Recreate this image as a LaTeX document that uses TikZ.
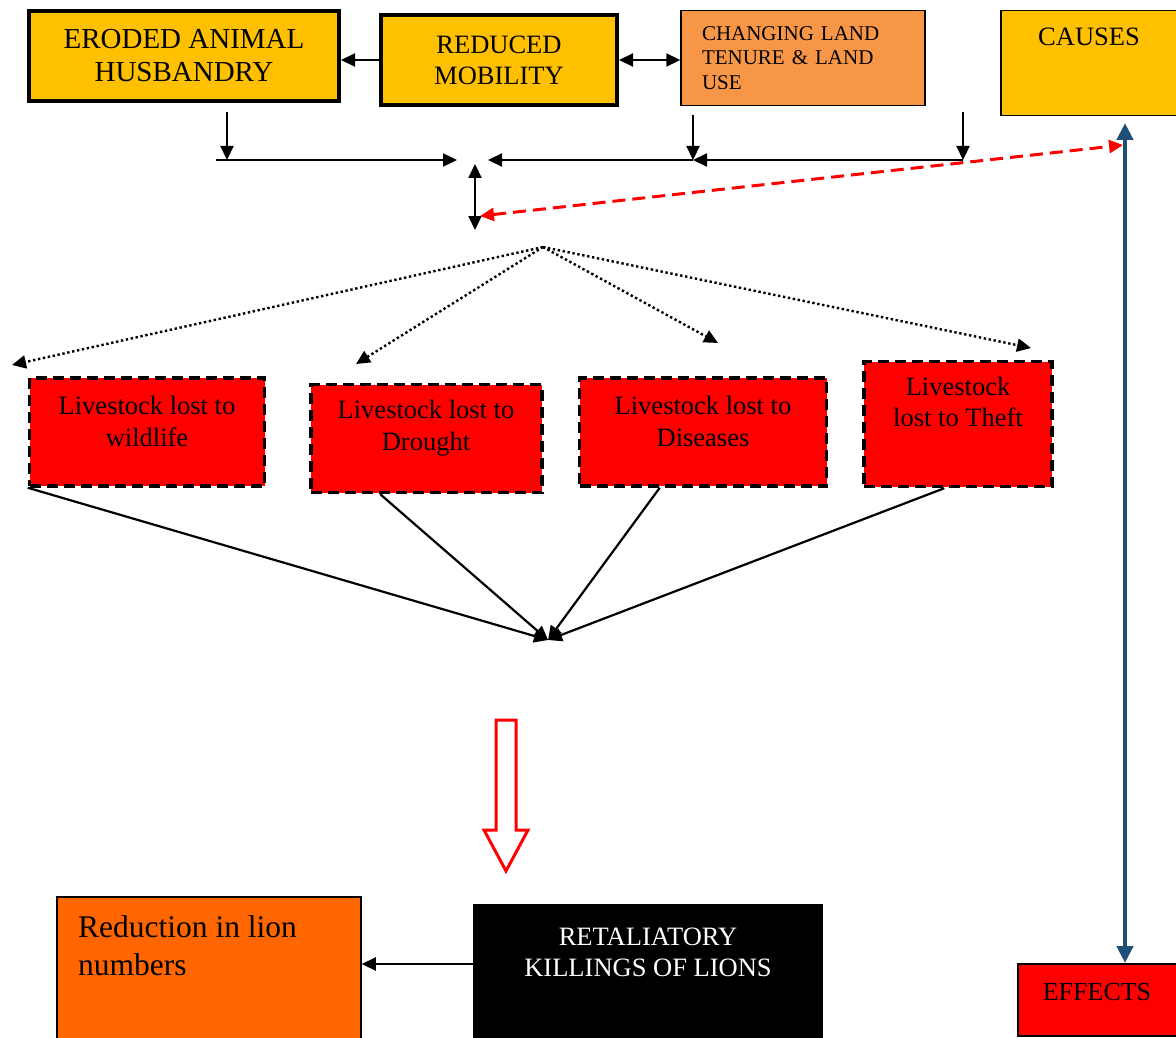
\documentclass[tikz,border=0pt]{standalone}
\usepackage{fontspec}
\setmainfont{Liberation Serif}
\usepackage{xcolor}
\definecolor{LionGold}{HTML}{FFC000}
\definecolor{LionTan}{HTML}{F79646}
\definecolor{LionRed}{HTML}{FF0000}
\definecolor{LionOrange}{HTML}{FF6600}
\definecolor{LionBlue}{HTML}{1F4E79}
\usepackage{tikz}
\usetikzlibrary{arrows.meta,positioning}

\begin{document}
\begin{tikzpicture}[
  x=1pt,y=-1pt,
  heavy/.style={draw=black,line width=4pt,fill=LionGold,align=center,inner sep=0pt,font=\fontsize{26.5}{31}\selectfont},
  plain/.style={draw=black,line width=1.5pt,inner sep=0pt},
  loss/.style={draw=black,line width=3.5pt,dash pattern=on 11pt off 6pt,fill=LionRed,inner sep=0pt},
  word/.style={align=center,inner sep=0pt,font=\fontsize{26.5}{32}\selectfont},
  arr/.style={line width=2.2pt,-{Triangle[length=14pt,width=13pt]}},
  dbl/.style={line width=2.2pt,{Triangle[length=14pt,width=13pt]}-{Triangle[length=14pt,width=13pt]}},
  dotarr/.style={line width=2.4pt,dash pattern=on 2.4pt off 2.6pt,-{Triangle[length=14pt,width=13pt]}},
  reddash/.style={draw=LionRed,line width=3pt,dash pattern=on 13pt off 7pt,{Triangle[length=14pt,width=13pt]}-{Triangle[length=14pt,width=13pt]}},
  bluearr/.style={draw=LionBlue,line width=4.5pt,{Triangle[length=17pt,width=16pt]}-{Triangle[length=17pt,width=16pt]}}
]
  \useasboundingbox (0,0) rectangle (1176,1038);
  \node[heavy,minimum width=310pt,minimum height=90pt,font=\fontsize{29}{33}\selectfont] (eroded) at (184,56) {ERODED ANIMAL\\HUSBANDRY};
  \node[heavy,minimum width=236pt,minimum height=90pt] (mobility) at (499,60) {REDUCED\\MOBILITY};
  \node[plain,fill=LionTan,minimum width=244pt,minimum height=95pt,text width=202pt,align=left,font=\fontsize{21}{24.5}\selectfont] (tenure) at (803,58) {CHANGING LAND\\TENURE \& LAND\\USE};
  \node[plain,fill=LionGold,minimum width=176pt,minimum height=105pt] (causes) at (1089,63) {};
  \node[word] (causestext) at (1089,37) {CAUSES};
  \node[loss,minimum width=235pt,minimum height=108pt] (wildlife) at (147,432) {};
  \node[loss,minimum width=231pt,minimum height=108pt] (drought) at (426.5,438.5) {};
  \node[loss,minimum width=247pt,minimum height=108pt] (diseases) at (703,432) {};
  \node[loss,minimum width=188pt,minimum height=125pt] (theft) at (958,424) {};
  \node[word] (wildlifetext) at (147,421) {Livestock lost to\\wildlife};
  \node[word] (droughttext) at (426,428) {Livestock lost to\\Drought};
  \node[word] (diseasestext) at (703,421) {Livestock lost to\\Diseases};
  \node[word,font=\fontsize{26.5}{31}\selectfont] (thefttext) at (958,402) {Livestock\\lost to Theft};
  \node[plain,fill=LionOrange,minimum width=304pt,minimum height=150pt] (reduction) at (209,972) {};
  \node[word,anchor=west,align=left,font=\fontsize{31.5}{38}\selectfont] (reductiontext) at (78,946) {Reduction in lion\\numbers};
  \node[plain,fill=black,minimum width=348pt,minimum height=142pt] (retal) at (648,976) {};
  \node[word,text=white,font=\fontsize{26.5}{31}\selectfont] (retaltext) at (648,952) {RETALIATORY\\KILLINGS OF LIONS};
  \node[plain,fill=LionRed,minimum width=164pt,minimum height=72pt] (effects) at (1100,1000) {};
  \node[word,font=\fontsize{26}{30}\selectfont] (effectstext) at (1097,992) {EFFECTS};
  \coordinate (erodedfoot) at (227,112);
  \coordinate (leftend) at (216,160);
  \coordinate (leftmeet) at (457,160);
  \coordinate (rightmeet) at (488,160);
  \coordinate (tenurefoot) at (693,115);
  \coordinate (tenurehit) at (693,160);
  \coordinate (farfoot) at (963,112);
  \coordinate (farhit) at (963,160);
  \coordinate (stemtop) at (475,164);
  \coordinate (stembot) at (475,230);
  \coordinate (redleft) at (480,216);
  \coordinate (redright) at (1123,145);
  \coordinate (fan) at (543,247);
  \coordinate (fanA) at (12,365);
  \coordinate (fanB) at (356,364);
  \coordinate (fanC) at (718,343);
  \coordinate (fanD) at (1031,348);
  \coordinate (meet) at (548,640);
  \coordinate (bluetop) at (1125,123);
  \coordinate (bluebot) at (1125,963);
  \draw[arr] (mobility.west) -- (mobility.west -| eroded.east);
  \draw[dbl] (mobility.east) -- (mobility.east -| tenure.west);
  \draw[arr] (erodedfoot) -- (erodedfoot |- leftend);
  \draw[arr] (leftend) -- (leftmeet);
  \draw[arr] (tenurefoot) -- (tenurehit);
  \draw[arr] (farfoot) -- (farhit);
  \draw[arr] (farhit) -- (tenurehit);
  \draw[arr] (tenurehit) -- (rightmeet);
  \draw[dbl] (stemtop) -- (stembot);
  \draw[reddash] (redleft) -- (redright);
  \foreach \t in {fanA,fanB,fanC,fanD}
    \draw[dotarr] (fan) -- (\t);
  \draw[arr] (wildlife.south west) -- (meet);
  \draw[arr] ([xshift=71pt]drought.south west) -- (meet);
  \draw[arr] ([xshift=82pt]diseases.south west) -- (meet);
  \draw[arr] ([xshift=82pt]theft.south west) -- (meet);
  \draw[LionRed,line width=3pt] (496,720) -- (516,720) -- (516,830) -- (528,830) -- (506,871) -- (484,830) -- (496,830) -- cycle;
  \draw[bluearr] (bluetop) -- (bluebot);
  \draw[arr] ([yshift=12pt]retal.west) -- ([yshift=12pt]retal.west -| reduction.east);
\end{tikzpicture}
\end{document}
